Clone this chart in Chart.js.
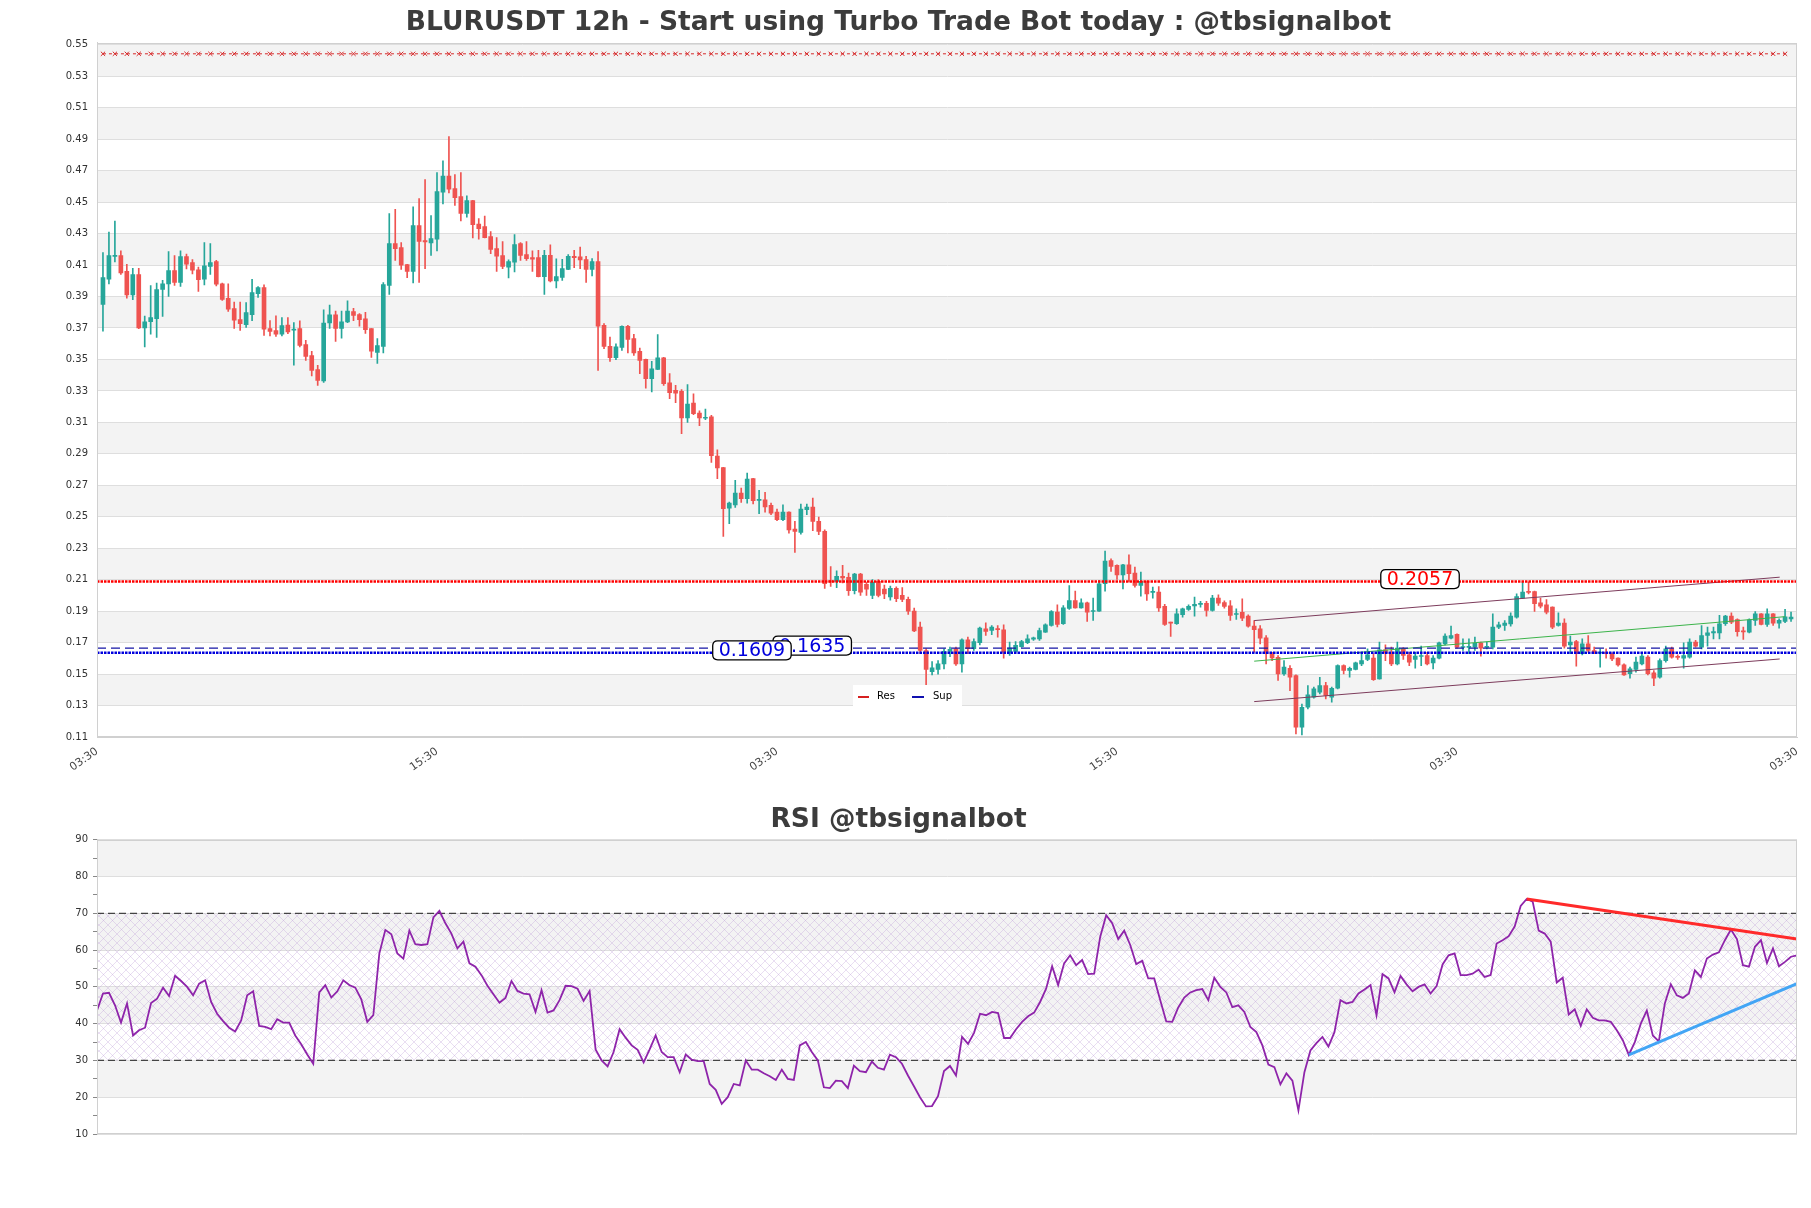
<!DOCTYPE html>
<html>
<head>
<meta charset="utf-8">
<script src="https://cdn.jsdelivr.net/npm/chart.js@4.4.0/dist/chart.umd.min.js"></script>
<style>
    html, body { margin: 0; padding: 0; background: #ffffff; }
    #wrap { position: relative; width: 1811px; height: 1208px; }
    #priceBox { position: absolute; left: 0; top: 0; width: 1811px; height: 790px; }
    #rsiBox { position: absolute; left: 0; top: 790px; width: 1811px; height: 418px; }
</style>
</head>
<body>
<div id="wrap">
    <div id="priceBox"><canvas id="priceChart"></canvas></div>
    <div id="rsiBox"><canvas id="rsiChart"></canvas></div>
</div>
<script>
// BLURUSDT 12h - velas + RSI

// Datos de velas (open / high / low / close), una por cada 12h
const opens = [
0.385,0.401,0.4155,0.416,0.406,0.391,0.404,0.370,0.374,0.376,
0.3946,0.398,0.4065,0.399,0.4154,0.4116,0.407,0.401,0.4092,0.4122,
0.398,0.3889,0.3823,0.3753,0.3721,0.3785,0.3918,0.3957,0.3696,0.3683,
0.366,0.3719,0.3686,0.3696,0.3594,0.3524,0.3435,0.3363,0.3732,0.3783,
0.3698,0.3738,0.3804,0.3785,0.3759,0.3696,0.3545,0.3583,0.3971,0.4236,
0.4211,0.4103,0.406,0.4351,0.4255,0.4241,0.4264,0.4563,0.4665,0.4586,
0.4535,0.4429,0.451,0.4361,0.4345,0.4281,0.4205,0.416,0.4086,0.4118,
0.4236,0.4166,0.4147,0.4147,0.4027,0.4162,0.3999,0.4022,0.4073,0.4156,
0.4152,0.4135,0.4073,0.4122,0.3717,0.3583,0.3511,0.3577,0.3711,0.3632,
0.3552,0.3501,0.3378,0.3437,0.3511,0.3352,0.3304,0.3297,0.3128,0.3223,
0.3159,0.3126,0.3136,0.2886,0.2812,0.2555,0.2576,0.2651,0.2615,0.2742,
0.2604,0.2608,0.2572,0.253,0.2481,0.253,0.2422,0.24,0.2545,0.2562,
0.2471,0.2407,0.2095,0.2089,0.2121,0.2115,0.203,0.2135,0.207,0.200,
0.209,0.204,0.199,0.2045,0.200,0.1975,0.190,0.1798,0.165,0.1515,
0.1529,0.1565,0.1644,0.1661,0.1565,0.1718,0.1661,0.1699,0.1788,0.1777,
0.1787,0.1781,0.1639,0.1644,0.1675,0.1699,0.1722,0.1724,0.1767,0.1809,
0.1894,0.182,0.1917,0.1968,0.1921,0.1953,0.1898,0.19,0.2074,0.2222,
0.2191,0.2131,0.2195,0.2142,0.2063,0.209,0.2019,0.2021,0.193,0.1828,
0.182,0.1877,0.1911,0.1934,0.1943,0.1949,0.1904,0.1983,0.1955,0.1934,
0.1879,0.1893,0.1868,0.1805,0.1788,0.173,0.1629,0.1607,0.1501,0.1537,
0.1491,0.1162,0.1289,0.1353,0.1385,0.1427,0.1353,0.141,0.1554,0.1523,
0.1529,0.1565,0.1593,0.1601,0.147,0.1654,0.1633,0.1565,0.166,0.1622,
0.1593,0.1612,0.1618,0.1571,0.1601,0.1692,0.1728,0.1752,0.1669,0.1669,
0.1671,0.1699,0.1669,0.1671,0.1798,0.1809,0.1819,0.1862,0.1983,0.2023,
0.2025,0.1953,0.194,0.1926,0.1809,0.1824,0.1686,0.1707,0.1629,0.1692,
0.165,0.1633,0.1635,0.1629,0.1601,0.1559,0.1502,0.1529,0.1565,0.1608,
0.1508,0.148,0.1586,0.166,0.161,0.1601,0.1608,0.1703,0.1671,0.1745,
0.1762,0.1762,0.182,0.1868,0.1847,0.1772,0.1767,0.1841,0.1883,0.1815,
0.1883,0.1824,0.1834,0.1851
];
const highs = [
0.418,0.431,0.438,0.419,0.4105,0.408,0.408,0.3776,0.397,0.3986,
0.4003,0.4186,0.416,0.419,0.417,0.4135,0.4088,0.4243,0.4236,0.413,
0.3985,0.398,0.3865,0.3865,0.3861,0.401,0.3963,0.3974,0.3747,0.3778,
0.3766,0.3766,0.3734,0.3745,0.3622,0.3552,0.3463,0.3815,0.3846,0.3808,
0.3808,0.3872,0.3825,0.3791,0.38,0.3697,0.3632,0.3988,0.4427,0.4455,
0.4243,0.4105,0.447,0.4523,0.4643,0.4414,0.4688,0.4762,0.4917,0.4675,
0.4688,0.454,0.4512,0.4395,0.4412,0.4313,0.4275,0.4249,0.4133,0.4294,
0.4243,0.4249,0.419,0.4194,0.4194,0.4228,0.4139,0.4137,0.4166,0.4194,
0.4215,0.4156,0.4141,0.4186,0.3728,0.3643,0.36,0.3713,0.3717,0.366,
0.3573,0.3503,0.3488,0.3658,0.3513,0.341,0.3335,0.3308,0.334,0.3282,
0.3174,0.3185,0.3145,0.2926,0.2814,0.2593,0.2731,0.2682,0.2778,0.2744,
0.2668,0.2655,0.2587,0.2549,0.2576,0.2532,0.2471,0.2581,0.2581,0.2619,
0.2498,0.2417,0.2184,0.2157,0.2191,0.2142,0.214,0.214,0.2085,0.210,
0.210,0.2065,0.206,0.2055,0.205,0.199,0.192,0.183,0.166,0.158,
0.1586,0.1661,0.1671,0.1671,0.1724,0.1735,0.1724,0.1798,0.1826,0.1809,
0.1809,0.1813,0.1703,0.1707,0.1714,0.175,0.1735,0.1792,0.182,0.1904,
0.194,0.1936,0.2063,0.2027,0.1979,0.1957,0.1983,0.2095,0.2282,0.2233,
0.2195,0.2197,0.2258,0.218,0.2148,0.2092,0.2053,0.2057,0.1943,0.183,
0.1915,0.1919,0.194,0.1989,0.1962,0.1962,0.2,0.2004,0.1966,0.1968,
0.1915,0.1978,0.1877,0.184,0.1809,0.1745,0.1639,0.1618,0.1586,0.1554,
0.1495,0.131,0.1427,0.1417,0.148,0.1448,0.1417,0.1559,0.1559,0.1544,
0.1576,0.1639,0.166,0.1629,0.1703,0.1686,0.1671,0.1703,0.1669,0.1639,
0.1639,0.1678,0.1639,0.1618,0.1703,0.1756,0.1805,0.1756,0.1724,0.1724,
0.1735,0.1703,0.1703,0.1883,0.183,0.184,0.1889,0.201,0.2085,0.2085,
0.2028,0.1983,0.1974,0.1928,0.1889,0.1851,0.1741,0.1714,0.1724,0.1745,
0.1671,0.166,0.166,0.1635,0.1603,0.1565,0.1544,0.1608,0.1629,0.1618,
0.1523,0.1597,0.1678,0.1671,0.1622,0.1699,0.1724,0.1714,0.1809,0.1798,
0.1798,0.1873,0.1873,0.1889,0.1851,0.1798,0.1851,0.1898,0.1885,0.1915,
0.1885,0.1851,0.1911,0.1894
];
const lows = [
0.368,0.398,0.412,0.404,0.389,0.388,0.3695,0.358,0.366,0.364,
0.3774,0.390,0.397,0.3965,0.4075,0.4043,0.3933,0.3974,0.404,0.3967,
0.3876,0.3806,0.3698,0.3685,0.3704,0.3747,0.3895,0.3653,0.3649,0.3647,
0.3649,0.3664,0.3463,0.3579,0.3494,0.3395,0.3335,0.3354,0.3698,0.3615,
0.3636,0.3734,0.3747,0.3711,0.3666,0.3513,0.3475,0.3541,0.3914,0.413,
0.4073,0.402,0.3986,0.399,0.4077,0.4162,0.419,0.4489,0.4559,0.448,
0.4381,0.4404,0.4272,0.4264,0.4272,0.4173,0.406,0.4077,0.4018,0.4056,
0.413,0.413,0.406,0.4025,0.3914,0.3993,0.3954,0.4003,0.4071,0.4084,
0.4077,0.399,0.4031,0.3431,0.3569,0.3488,0.3499,0.3558,0.3541,0.3526,
0.341,0.3318,0.3293,0.3435,0.3335,0.3251,0.3225,0.3028,0.31,0.3149,
0.3079,0.3117,0.2846,0.2742,0.2375,0.2456,0.2559,0.2591,0.2587,0.2581,
0.2519,0.253,0.2513,0.2475,0.2475,0.2396,0.2273,0.239,0.2513,0.2411,
0.2386,0.2045,0.2057,0.205,0.208,0.200,0.201,0.200,0.200,0.198,
0.199,0.198,0.197,0.196,0.196,0.188,0.177,0.163,0.1427,0.1495,
0.150,0.1533,0.161,0.1555,0.1512,0.163,0.165,0.1686,0.1745,0.175,
0.1735,0.1601,0.1618,0.1639,0.1671,0.1693,0.1714,0.1714,0.1765,0.1805,
0.18,0.1815,0.1911,0.1919,0.1919,0.1834,0.1841,0.1898,0.2027,0.2153,
0.2101,0.2042,0.2089,0.2053,0.1996,0.1968,0.1983,0.1898,0.1809,0.1739,
0.1815,0.1862,0.1904,0.1868,0.1926,0.1868,0.19,0.1936,0.1919,0.1841,
0.1847,0.184,0.1798,0.1639,0.1692,0.1565,0.1586,0.1459,0.1491,0.1395,
0.112,0.1113,0.1279,0.1347,0.1374,0.1342,0.1321,0.1406,0.1501,0.148,
0.1527,0.1554,0.1586,0.1459,0.1468,0.1586,0.1554,0.1559,0.1593,0.1554,
0.1537,0.1554,0.1559,0.1533,0.1597,0.1686,0.1724,0.1665,0.165,0.1629,
0.165,0.1614,0.166,0.166,0.1788,0.1777,0.1805,0.1856,0.1979,0.201,
0.1898,0.192,0.1883,0.1788,0.1805,0.1665,0.1629,0.155,0.1622,0.1639,
0.1629,0.1544,0.1601,0.1586,0.155,0.1491,0.1474,0.1512,0.1559,0.1495,
0.1427,0.1474,0.1576,0.1601,0.1593,0.1538,0.1601,0.1671,0.166,0.1678,
0.1724,0.1724,0.1809,0.182,0.1741,0.172,0.1762,0.1809,0.1813,0.1803,
0.1809,0.1792,0.1826,0.1834
];
const closes = [
0.402,0.416,0.416,0.405,0.391,0.404,0.370,0.374,0.3766,0.3944,
0.398,0.4065,0.399,0.4154,0.4105,0.4067,0.4007,0.4096,0.4116,0.3978,
0.3882,0.3819,0.3749,0.3728,0.3798,0.3925,0.3957,0.3692,0.3679,0.366,
0.3715,0.3675,0.3692,0.359,0.352,0.3431,0.3367,0.3732,0.3783,0.3698,
0.374,0.3808,0.378,0.3753,0.3689,0.3552,0.3588,0.3976,0.4236,0.4205,
0.4099,0.406,0.4351,0.4251,0.4247,0.4268,0.4567,0.4665,0.4582,0.4529,
0.4429,0.451,0.4357,0.4332,0.4275,0.42,0.4156,0.4092,0.4122,0.423,
0.4162,0.4141,0.4137,0.4027,0.4162,0.3999,0.4027,0.4077,0.4156,0.4147,
0.4133,0.4073,0.4122,0.3711,0.3583,0.3511,0.3581,0.3711,0.3628,0.3541,
0.3494,0.3378,0.3441,0.3511,0.3346,0.3289,0.3285,0.3128,0.3217,0.3155,
0.3128,0.313,0.2888,0.281,0.2551,0.2587,0.2651,0.2615,0.274,0.2602,
0.261,0.2562,0.2523,0.2481,0.253,0.2417,0.2407,0.2549,0.2562,0.2471,
0.2407,0.2075,0.2085,0.2121,0.2112,0.203,0.2135,0.202,0.204,0.2085,
0.200,0.201,0.2045,0.198,0.1975,0.190,0.1775,0.165,0.1529,0.154,
0.1565,0.1644,0.1657,0.1565,0.1718,0.1661,0.1707,0.1792,0.1771,0.1798,
0.1783,0.1639,0.1665,0.1682,0.1707,0.1724,0.173,0.1777,0.1813,0.1898,
0.1815,0.1921,0.1968,0.1921,0.1953,0.1894,0.1904,0.2074,0.2218,0.2184,
0.2131,0.2195,0.2138,0.2063,0.209,0.201,0.2023,0.1921,0.1815,0.1824,
0.1883,0.1915,0.193,0.1943,0.1949,0.1904,0.1983,0.1951,0.193,0.1873,
0.1885,0.1855,0.1805,0.1783,0.1728,0.1629,0.1603,0.1501,0.1544,0.148,
0.1162,0.1289,0.1368,0.1406,0.1427,0.1364,0.141,0.1554,0.1523,0.1537,
0.1571,0.1586,0.1622,0.1465,0.1654,0.1633,0.1565,0.1665,0.1618,0.1576,
0.1614,0.1618,0.1565,0.1601,0.1699,0.1741,0.1745,0.1671,0.1673,0.1677,
0.1696,0.1665,0.1677,0.1798,0.1813,0.1824,0.1868,0.1993,0.2021,0.2019,
0.1947,0.1932,0.1894,0.1798,0.1824,0.1678,0.1703,0.1629,0.1692,0.165,
0.1635,0.1637,0.1631,0.1597,0.1559,0.1495,0.1533,0.1576,0.1614,0.1502,
0.1474,0.1586,0.166,0.1608,0.1606,0.1618,0.1703,0.1678,0.1745,0.1762,
0.177,0.182,0.1868,0.183,0.177,0.1768,0.1845,0.1883,0.1815,0.1883,
0.1824,0.1841,0.1864,0.1862
];

// RSI (14) por vela
const rsiValues = [
43.6,48.2,48.4,45.0,40.3,45.5,36.8,38.2,38.9,45.6,
46.8,49.8,47.5,53.0,51.6,50.0,47.7,50.9,51.8,45.9,
42.7,40.7,38.9,37.9,40.9,47.7,48.8,39.4,39.1,38.5,
41.2,40.3,40.3,36.8,34.4,31.6,29.1,48.5,50.5,47.1,
48.8,51.8,50.5,49.8,46.6,40.5,42.3,59.1,65.5,64.3,
59.1,57.7,65.3,61.6,61.4,61.6,68.9,70.7,67.3,64.5,
60.5,62.3,56.4,55.5,53.2,50.3,48.0,45.7,47.0,51.6,
48.9,48.2,48.0,43.2,49.1,43.0,43.6,46.4,50.3,50.2,
49.5,46.2,48.9,33.0,30.0,28.4,32.3,38.5,36.2,34.1,
32.9,29.5,33.0,36.8,32.3,30.9,30.9,26.8,31.6,30.2,
29.8,29.8,23.6,22.0,18.2,20.0,23.6,23.2,30.0,27.5,
27.5,26.5,25.7,24.7,27.5,25.0,24.7,34.1,35.0,32.3,
30.0,22.7,22.5,24.5,24.4,22.5,28.6,27.1,26.8,29.7,
28.0,27.5,31.6,30.9,29.1,25.9,23.0,20.0,17.5,17.6,
20.3,27.1,28.5,25.9,36.4,34.5,37.5,42.7,42.3,43.2,
42.9,36.1,36.1,38.5,40.5,42.0,43.0,45.9,49.5,55.6,
50.5,56.4,58.6,55.9,57.3,53.5,53.6,63.6,69.5,67.3,
63.0,65.3,61.4,56.2,57.1,52.3,52.3,46.4,40.6,40.5,
44.4,47.1,48.5,49.1,49.4,46.4,52.5,50.0,48.5,44.5,
45.0,43.2,39.1,37.7,34.1,28.9,28.2,23.5,26.5,24.5,
16.4,26.8,32.7,34.7,36.4,33.8,37.7,46.4,45.5,45.9,
48.2,49.3,50.5,42.3,53.5,52.3,48.5,53.0,50.7,48.8,
50.0,50.7,48.2,50.2,56.1,58.6,59.1,53.2,53.2,53.6,
54.7,52.7,53.2,61.8,62.7,63.8,66.4,72.0,73.9,73.2,
65.3,64.5,62.3,51.2,52.5,42.5,43.9,39.4,43.9,41.6,
40.9,40.9,40.5,38.2,35.5,31.5,35.0,40.0,43.6,36.8,
35.2,45.5,50.7,47.7,47.0,48.2,54.5,52.7,57.7,58.8,
59.4,62.7,65.6,63.0,55.9,55.5,60.9,62.7,56.5,60.5,
55.6,56.8,58.2,58.6
];

// Ejes
const xTickPositions = [0, 57, 114, 171, 228, 285];
const xTickLabels = ['03:30', '15:30', '03:30', '15:30', '03:30', '03:30'];
const priceTicks = [0.11,0.13,0.15,0.17,0.19,0.21,0.23,0.25,0.27,0.29,0.31,0.33,0.35,0.37,0.39,0.41,0.43,0.45,0.47,0.49,0.51,0.53,0.55];
const rsiTicks = [10,15,20,25,30,35,40,45,50,55,60,65,70,75,80,85,90];
const rsiMajorTicks = [10,20,30,40,50,60,70,80,90];

// Niveles de resistencia / soporte
const topResLevel = 0.5443;
const resLevel = 0.2088;
const supDashedLevel = 0.1665;
const supDottedLevel = 0.1635;
const levelLabels = ['0.2057', '0.1635', '0.1609'];

// Canal y tendencia (x = posicion de vela)
const channelUpper = [{ x: 194, y: 0.184 }, { x: 282.1, y: 0.2116 }];
const channelLower = [{ x: 194, y: 0.1325 }, { x: 282.1, y: 0.1596 }];
const channelMid = [{ x: 194, y: 0.1582 }, { x: 283, y: 0.1865 }];
const rsiLevels = [70, 30];
const rsiResTrend = [{ x: 238, y: 73.9 }, { x: 283, y: 63.0 }];
const rsiSupTrend = [{ x: 255, y: 31.5 }, { x: 283, y: 50.9 }];

const Colors = {
    up: '#26a69a',
    down: '#ef5350',
    res: '#ff0000',
    sup: '#0000dd',
    band: '#f3f3f3',
    grid: '#dedede',
    border: '#d0d0d0',
    text: '#333333',
    title: '#3c3c3c'
};
const FONT = "'DejaVu Sans', sans-serif";

const candleColors = opens.map((o, i) => closes[i] >= o ? Colors.up : Colors.down);
const wickData = opens.map((o, i) => ({ x: i + 1, y: [lows[i], highs[i]] }));
const bodyData = opens.map((o, i) => ({ x: i + 1, y: [o, closes[i]] }));
const topMarks = opens.map((o, i) => i).filter(i => i % 2 === 0).map(i => ({ x: i + 1, y: topResLevel }));

function hLine(value, x0, x1) {
    return [{ x: x0, y: value }, { x: x1, y: value }];
}

// Bandas grises alternas detras de la rejilla
const bandsPlugin = {
    id: 'bands',
    beforeDraw(chart, args, opts) {
        const { ctx, chartArea: a, scales: { y } } = chart;
        const t = opts.ticks || [];
        ctx.save();
        ctx.fillStyle = '#ffffff';
        ctx.fillRect(a.left, a.top, a.width, a.height);
        ctx.fillStyle = Colors.band;
        for (let k = 1; k < t.length - 1; k += 2) {
            const yTop = y.getPixelForValue(t[k + 1]);
            const yBot = y.getPixelForValue(t[k]);
            ctx.fillRect(a.left, yTop, a.width, yBot - yTop);
        }
        ctx.restore();
    }
};

// Marco del area del grafico
const borderPlugin = {
    id: 'frame',
    afterDraw(chart) {
        const { ctx, chartArea: a } = chart;
        ctx.save();
        ctx.strokeStyle = Colors.border;
        ctx.lineWidth = 1;
        ctx.strokeRect(Math.round(a.left) + 0.5, Math.round(a.top) + 0.5, Math.round(a.width) - 1, Math.round(a.height) - 1);
        ctx.restore();
    }
};

function roundBox(ctx, x, y, w, h, r) {
    ctx.beginPath();
    ctx.moveTo(x + r, y);
    ctx.lineTo(x + w - r, y);
    ctx.quadraticCurveTo(x + w, y, x + w, y + r);
    ctx.lineTo(x + w, y + h - r);
    ctx.quadraticCurveTo(x + w, y + h, x + w - r, y + h);
    ctx.lineTo(x + r, y + h);
    ctx.quadraticCurveTo(x, y + h, x, y + h - r);
    ctx.lineTo(x, y + r);
    ctx.quadraticCurveTo(x, y, x + r, y);
    ctx.closePath();
}

// Etiquetas de nivel y leyenda Res / Sup
const labelsPlugin = {
    id: 'levelLabels',
    afterDatasetsDraw(chart) {
        const { ctx, chartArea: a, scales: { x, y } } = chart;
        const items = [
            { text: levelLabels[0], at: 221.8, level: resLevel, color: Colors.res },
            { text: levelLabels[1], at: 119.9, level: supDashedLevel, color: Colors.sup },
            { text: levelLabels[2], at: 109.8, level: supDottedLevel, color: Colors.sup }
        ];
        ctx.save();
        ctx.font = '19px ' + FONT;
        ctx.textAlign = 'center';
        ctx.textBaseline = 'middle';
        items.forEach(it => {
            const cx = x.getPixelForValue(it.at);
            const cy = y.getPixelForValue(it.level) - 2.5;
            const w = ctx.measureText(it.text).width + 12;
            const h = 19;
            roundBox(ctx, cx - w / 2, cy - h / 2, w, h, 5);
            ctx.fillStyle = '#ffffff';
            ctx.fill();
            ctx.strokeStyle = '#000000';
            ctx.lineWidth = 1.3;
            ctx.stroke();
            ctx.fillStyle = it.color;
            ctx.fillText(it.text, cx, cy + 1);
        });

        // leyenda
        const lx = a.left + 756, ly = a.bottom - 52;
        ctx.fillStyle = '#ffffff';
        ctx.fillRect(lx, ly, 109, 22);
        ctx.lineWidth = 2;
        ctx.strokeStyle = '#d62020';
        ctx.beginPath(); ctx.moveTo(lx + 5, ly + 12); ctx.lineTo(lx + 16, ly + 12); ctx.stroke();
        ctx.strokeStyle = '#1010b0';
        ctx.beginPath(); ctx.moveTo(lx + 59, ly + 12); ctx.lineTo(lx + 71, ly + 12); ctx.stroke();
        ctx.font = '10px ' + FONT;
        ctx.textAlign = 'left';
        ctx.fillStyle = '#000000';
        ctx.fillText('Res', lx + 24, ly + 11);
        ctx.fillText('Sup', lx + 80, ly + 11);
        ctx.restore();
    }
};

// Zona sombreada (trama) del RSI entre 30 y 70
const hatchPlugin = {
    id: 'hatch',
    beforeDatasetsDraw(chart) {
        const { ctx, chartArea: a, scales: { y } } = chart;
        const tile = document.createElement('canvas');
        tile.width = 9; tile.height = 9;
        const tctx = tile.getContext('2d');
        tctx.strokeStyle = 'rgba(185, 150, 215, 0.45)';
        tctx.lineWidth = 0.7;
        tctx.beginPath();
        tctx.moveTo(0, 9); tctx.lineTo(9, 0);
        tctx.moveTo(0, 0); tctx.lineTo(9, 9);
        tctx.stroke();
        const yTop = y.getPixelForValue(rsiLevels[0]);
        const yBot = y.getPixelForValue(rsiLevels[1]);
        ctx.save();
        ctx.fillStyle = ctx.createPattern(tile, 'repeat');
        ctx.fillRect(a.left, yTop, a.width, yBot - yTop);
        ctx.restore();
    }
};

Chart.defaults.font.family = FONT;
Chart.defaults.color = Colors.text;
Chart.defaults.animation = false;

// Grafico de precio
new Chart(document.getElementById('priceChart'), {
    type: 'bar',
    data: {
        datasets: [
            {
                type: 'line', data: topMarks, borderColor: '#d62728', borderWidth: 1, borderDash: [3, 3],
                pointStyle: 'crossRot', pointRadius: 3, pointBorderColor: '#d62728', pointBorderWidth: 1, order: 0
            },
            {
                type: 'line', data: hLine(resLevel, 0, 285), borderColor: Colors.res, borderWidth: 2.5,
                borderDash: [2.5, 1], pointRadius: 0, order: 0
            },
            {
                type: 'line', data: hLine(supDashedLevel, 0, 285), borderColor: '#1616a6', borderWidth: 1.4,
                borderDash: [9, 5], pointRadius: 0, order: 0
            },
            {
                type: 'line', data: hLine(supDottedLevel, 0, 285), borderColor: Colors.sup, borderWidth: 2.5,
                borderDash: [2.5, 1], pointRadius: 0, order: 0
            },
            { type: 'line', data: channelUpper, borderColor: '#7d3c5c', borderWidth: 1, pointRadius: 0, order: 1 },
            { type: 'line', data: channelLower, borderColor: '#7d3c5c', borderWidth: 1, pointRadius: 0, order: 1 },
            { type: 'line', data: channelMid, borderColor: '#3cb44b', borderWidth: 1, pointRadius: 0, order: 1 },
            { data: bodyData, backgroundColor: candleColors, barThickness: 4, grouped: false, minBarLength: 1, order: 2 },
            { data: wickData, backgroundColor: candleColors, barThickness: 1, grouped: false, order: 3 }
        ]
    },
    options: {
        responsive: true,
        maintainAspectRatio: false,
        layout: { padding: { left: 0, right: 14, top: 0, bottom: 0 } },
        plugins: {
            legend: { display: false },
            tooltip: { enabled: false },
            bands: { ticks: priceTicks },
            title: {
                display: true,
                text: 'BLURUSDT 12h - Start using Turbo Trade Bot today : @tbsignalbot',
                color: Colors.title,
                font: { size: 26.5, weight: 'bold', family: FONT },
                padding: { top: 7, bottom: 4 }
            }
        },
        scales: {
            x: {
                type: 'linear',
                min: 0,
                max: 285,
                offset: false,
                grid: { display: false, offset: false },
                border: { color: Colors.border },
                afterBuildTicks: scale => { scale.ticks = xTickPositions.map(v => ({ value: v })); },
                afterFit: scale => { scale.height = 53; },
                ticks: {
                    autoSkip: false,
                    minRotation: 35,
                    maxRotation: 35,
                    padding: 0,
                    color: '#444444',
                    font: { size: 11 },
                    callback: (value, index) => xTickLabels[index]
                }
            },
            y: {
                type: 'linear',
                min: 0.11,
                max: 0.5513,
                grid: { color: Colors.grid, drawTicks: false },
                border: { color: Colors.border },
                afterBuildTicks: scale => { scale.ticks = priceTicks.map(v => ({ value: v })); },
                afterFit: scale => { scale.width = 97; },
                ticks: {
                    padding: 9,
                    font: { size: 10 },
                    callback: value => Number(value).toFixed(2)
                }
            }
        }
    },
    plugins: [bandsPlugin, labelsPlugin, borderPlugin]
});

// Grafico RSI
new Chart(document.getElementById('rsiChart'), {
    type: 'line',
    data: {
        datasets: [
            { data: rsiSupTrend, borderColor: '#42a5f5', borderWidth: 3, pointRadius: 0, order: 0 },
            { data: rsiResTrend, borderColor: '#ff2a2a', borderWidth: 3, pointRadius: 0, order: 0 },
            {
                data: rsiValues.map((v, i) => ({ x: i, y: v })),
                borderColor: '#8e24aa', borderWidth: 1.8, pointRadius: 0, tension: 0, order: 1
            },
            { data: hLine(rsiLevels[0], 0, 283), borderColor: '#444444', borderWidth: 1.2, borderDash: [7, 4], pointRadius: 0, order: 2 },
            { data: hLine(rsiLevels[1], 0, 283), borderColor: '#444444', borderWidth: 1.2, borderDash: [7, 4], pointRadius: 0, order: 2 }
        ]
    },
    options: {
        responsive: true,
        maintainAspectRatio: false,
        layout: { padding: { left: 0, right: 14, top: 0, bottom: 74 } },
        plugins: {
            legend: { display: false },
            tooltip: { enabled: false },
            bands: { ticks: rsiMajorTicks },
            title: {
                display: true,
                text: 'RSI @tbsignalbot',
                color: Colors.title,
                font: { size: 26.5, weight: 'bold', family: FONT },
                padding: { top: 14, bottom: 4 }
            }
        },
        scales: {
            x: { type: 'linear', min: 0, max: 283, display: false },
            y: {
                type: 'linear',
                min: 10,
                max: 90,
                border: { color: Colors.border },
                grid: {
                    color: ctx => (ctx.tick && ctx.tick.value % 10 === 0) ? Colors.grid : 'rgba(0,0,0,0)',
                    tickColor: '#888888',
                    tickLength: 4,
                    drawTicks: true
                },
                afterBuildTicks: scale => { scale.ticks = rsiTicks.map(v => ({ value: v })); },
                afterFit: scale => { scale.width = 97; },
                ticks: {
                    padding: 5,
                    font: { size: 10 },
                    callback: value => value % 10 === 0 ? String(value) : ''
                }
            }
        }
    },
    plugins: [bandsPlugin, hatchPlugin, borderPlugin]
});
</script>
</body>
</html>
